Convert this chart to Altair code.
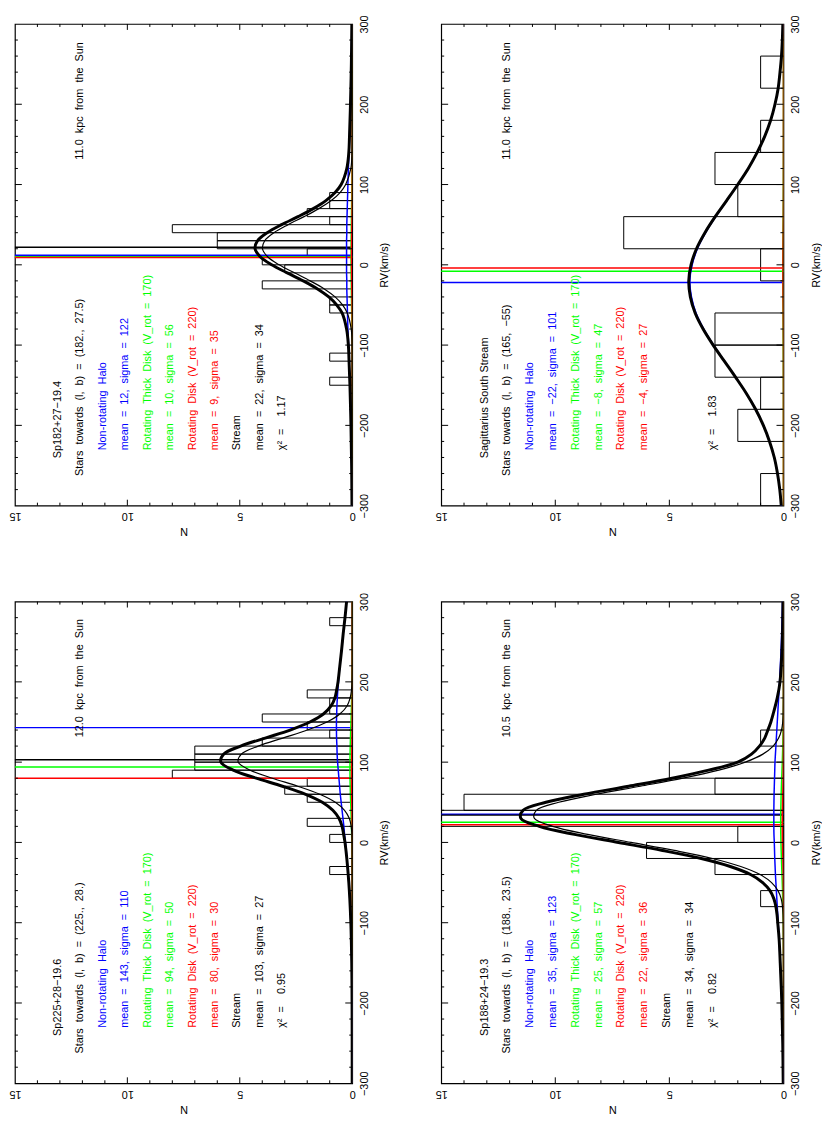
import altair as alt
import pandas as pd

BLUE, GREEN, RED, BLACK = "#0000ff", "#00ff00", "#ff0000", "#000000"
FONT = "Liberation Sans"

# ---------------- axis tick values ----------------
N_LABELS = [0, 5, 10, 15]
RV_LABELS = [-300, -200, -100, 0, 100, 200, 300]
N_MAJOR = [5, 10]
N_MINOR = [1, 2, 3, 4, 6, 7, 8, 9, 11, 12, 13, 14]
RV_MAJOR = [-200, -100, 0, 100, 200]
RV_MINOR = [-280, -260, -240, -220, -180, -160, -140, -120, -80, -60, -40, -20,
            20, 40, 60, 80, 120, 140, 160, 180, 220, 240, 260, 280]

# ---------------- panel 1 : Sp182+27-19.4 ----------------
P1_NAME = "Sp182+27−19.4"
P1_LB = "(182., 27.5)"
P1_DIST = "11.0 kpc from the Sun"
P1_MEANS = [12, 10, 9, 22]          # halo, thick disk, disk, stream
P1_SIGMAS = [122, 56, 35, 34]
P1_CHI2 = "1.17"
P1_BIN_W = 10
P1_BIN_LO = [-150, -120, -60, -50, -30, -10, 0, 10, 20, 30, 40, 50, 60, 70, 80]
P1_COUNT = [1, 1, 1, 1, 4, 3, 4, 2, 6, 6, 8, 1, 2, 1, 1]
P1_RV = [-300, -250, -200, -150, -120, -100, -80, -60, -50, -40, -30, -20, -10, 0, 10,
         20, 30, 40, 50, 60, 70, 80, 90, 100, 120, 140, 160, 200, 250, 300]
P1_TOTAL = [.01, .025, .055, .10, .14, .17, .25, .45, .69, 1.04, 1.54, 2.18, 2.89, 3.58, 4.09,
            4.32, 4.21, 3.78, 3.14, 2.41, 1.73, 1.17, .76, .49, .24, .15, .12, .076, .037, .016]
P1_STREAM = [0, 0, 0, 0, 0, .006, .044, .22, .43, .76, 1.24, 1.87, 2.57, 3.25, 3.76,
             3.99, 3.89, 3.48, 2.85, 2.14, 1.48, .93, .54, .29, .06, .01, 0, 0, 0, 0]
P1_HALO = [.01, .025, .055, .10, .14, .16, .19, .21, .22, .23, .24, .24, .25, .25, .25,
           .25, .25, .24, .24, .23, .22, .21, .20, .19, .17, .14, .12, .076, .037, .016]
P1_DISK_RV = P1_RV
P1_TDISK = [0, 0, 0, 0, .003, .007, .014, .023, .028, .034, .039, .043, .047, .049, .05,
            .049, .047, .043, .039, .034, .028, .023, .018, .014, .007, .003, .001, 0, 0, 0]
P1_DISK = [0, 0, 0, 0, 0, 0, 0, .004, .007, .011, .017, .021, .026, .029, .03,
           .029, .026, .021, .015, .01, .006, .003, .002, .001, 0, 0, 0, 0, 0, 0]

# ---------------- panel 2 : Sagittarius South Stream ----------------
P2_NAME = "Sagittarius  South  Stream"
P2_LB = "(165, −55)"
P2_DIST = "11.0 kpc from the Sun"
P2_MEANS = [-22, -8, -4]
P2_SIGMAS = [101, 47, 27]
P2_CHI2 = "1.83"
P2_BIN_W = 40
P2_BIN_LO = [-300, -220, -180, -140, -100, -20, 20, 60, 100, 140, 220]
P2_COUNT = [1, 2, 1, 3, 3, 1, 7, 2, 3, 1, 1]
P2_RV = [-300, -280, -260, -240, -220, -200, -180, -160, -140, -120, -100, -80, -60, -40, -20,
         0, 20, 40, 60, 80, 100, 120, 140, 160, 180, 200, 220, 240, 260, 280, 300]
P2_TOTAL = [.095, .16, .26, .40, .61, .88, 1.22, 1.63, 2.10, 2.59, 3.08, 3.52, 3.87, 4.08, 4.15,
            4.05, 3.81, 3.44, 2.99, 2.49, 2.00, 1.54, 1.15, .82, .56, .37, .23, .15, .085, .047, .026]
P2_HALO = [.095, .16, .26, .40, .61, .88, 1.22, 1.63, 2.09, 2.58, 3.06, 3.49, 3.83, 4.03, 4.10,
           4.00, 3.77, 3.41, 2.97, 2.48, 2.00, 1.54, 1.15, .82, .56, .37, .23, .15, .085, .047, .026]
P2_DISK_RV = [-300, -150, -100, -60, -40, -20, 0, 20, 40, 60, 100, 150, 300]
P2_TDISK = [0, .003, .01, .018, .025, .029, .03, .026, .02, .012, .004, 0, 0]
P2_DISK = [0, 0, .002, .01, .016, .02, .02, .017, .01, .005, 0, 0, 0]

# ---------------- panel 3 : Sp225+28-19.6 ----------------
P3_NAME = "Sp225+28−19.6"
P3_LB = "(225., 28.)"
P3_DIST = "12.0 kpc from the Sun"
P3_MEANS = [143, 94, 80, 103]
P3_SIGMAS = [110, 50, 30, 27]
P3_CHI2 = "0.95"
P3_BIN_W = 10
P3_BIN_LO = [-40, 0, 20, 50, 60, 70, 80, 90, 100, 110, 120, 130, 140, 150, 160, 170, 180, 270]
P3_COUNT = [1, 1, 2, 2, 3, 2, 8, 7, 7, 7, 4, 1, 2, 4, 1, 1, 2, 1]
P3_RV = [-300, -250, -200, -150, -100, -50, 0, 10, 20, 30, 40, 50, 60, 70, 80, 90, 100,
         110, 120, 130, 140, 150, 160, 170, 180, 190, 200, 220, 240, 260, 280, 300]
P3_TOTAL = [0, .001, .005, .02, .06, .15, .32, .38, .45, .59, .86, 1.33, 2.07, 3.10, 4.27, 5.29, 5.84,
            5.71, 4.96, 3.87, 2.76, 1.88, 1.28, .94, .77, .69, .63, .55, .47, .40, .32, .25]
P3_STREAM = [0, 0, 0, 0, 0, 0, .004, .014, .045, .13, .34, .75, 1.44, 2.42, 3.55, 4.54, 5.07,
             4.93, 4.18, 3.09, 1.99, 1.12, .55, .23, .09, .03, .009, 0, 0, 0, 0, 0]
P3_HALO = [0, .001, .005, .02, .06, .15, .30, .34, .37, .41, .45, .49, .53, .56, .59, .62, .65,
           .67, .68, .695, .70, .70, .69, .68, .66, .64, .61, .55, .47, .40, .32, .25]
P3_DISK_RV = [-300, -50, 0, 20, 40, 60, 80, 100, 120, 140, 160, 180, 200, 250, 300]
P3_TDISK = [0, .002, .017, .033, .056, .079, .096, .099, .087, .066, .042, .023, .011, .001, 0]
P3_DISK = [0, 0, .001, .004, .012, .024, .03, .024, .012, .004, .001, 0, 0, 0, 0]

# ---------------- panel 4 : Sp188+24-19.3 ----------------
P4_NAME = "Sp188+24−19.3"
P4_LB = "(188., 23.5)"
P4_DIST = "10.5 kpc from the Sun"
P4_MEANS = [35, 25, 22, 34]
P4_SIGMAS = [123, 57, 36, 34]
P4_CHI2 = "0.82"
P4_BIN_W = 20
P4_BIN_LO = [-80, -40, -20, 0, 20, 40, 60, 80, 120]
P4_COUNT = [1, 3, 6, 2, 16, 14, 3, 5, 1]
P4_RV = [-300, -250, -200, -150, -120, -100, -90, -80, -70, -60, -50, -40, -30, -20, -10, 0,
         10, 20, 30, 40, 50, 60, 70, 80, 90, 100, 110, 120, 130, 140, 150, 160, 180, 200, 250, 300]
P4_TOTAL = [.01, .03, .07, .14, .19, .25, .28, .33, .42, .59, .91, 1.44, 2.33, 3.60, 5.30, 7.23,
            9.16, 10.70, 11.51, 11.41, 10.41, 8.75, 6.78, 4.88, 3.28, 2.00, 1.40, 1.05, .82, .68,
            .55, .45, .27, .15, .05, .02]
P4_STREAM = [0, 0, 0, 0, 0, .005, .014, .04, .10, .24, .52, 1.02, 1.87, 3.11, 4.78, 6.68,
             8.58, 10.11, 10.92, 10.83, 9.85, 8.21, 6.27, 4.40, 2.83, 1.67, .90, .45, .21, .085,
             .03, .01, 0, 0, 0, 0]
P4_HALO = [.01, .03, .07, .14, .19, .23, .25, .27, .29, .31, .33, .35, .365, .38, .39, .40,
           .415, .42, .42, .42, .415, .41, .40, .39, .38, .37, .35, .33, .31, .29, .27, .25,
           .21, .17, .09, .04]
P4_DISK_RV = [-300, -150, -100, -80, -60, -40, -20, 0, 20, 40, 60, 80, 100, 120, 140, 160, 200, 300]
P4_TDISK = [0, .001, .011, .022, .04, .063, .088, .109, .12, .116, .10, .075, .05, .03, .016, .007, .001, 0]
P4_DISK = [0, 0, 0, .001, .004, .011, .025, .042, .05, .044, .029, .014, .005, .001, 0, 0, 0, 0]

# ---------------- layout constants ----------------
W_LEFT, W_RIGHT = 341, 346
H_PANEL = 487
SPACE_H, SPACE_V = 44, 55

XS = alt.Scale(domain=[0, 15], reverse=True, nice=False, zero=False)
YS = alt.Scale(domain=[-300, 300], nice=False, zero=False)
X_AXIS = alt.Axis(values=N_LABELS, orient="bottom", title="N", format="d",
                  labelAngle=180, labelAlign="center", labelBaseline="bottom", labelPadding=5,
                  titleAngle=180, titleBaseline="bottom", titlePadding=4,
                  ticks=False, domain=False, grid=False,
                  labelFont=FONT, titleFont=FONT, labelFontSize=11, titleFontSize=11,
                  titleFontWeight="normal", labelColor="black", titleColor="black")
Y_AXIS = alt.Axis(values=RV_LABELS, orient="right", title="RV(km/s)", format="d",
                  labelAngle=270, labelAlign="center", labelBaseline="top", labelPadding=6,
                  titleAngle=270, titleBaseline="top", titlePadding=10,
                  ticks=False, domain=False, grid=False,
                  labelFont=FONT, titleFont=FONT, labelFontSize=11, titleFontSize=11,
                  titleFontWeight="normal", labelColor="black", titleColor="black")


def X(f):
    return alt.X(f + ":Q", scale=XS, axis=X_AXIS)


def Y(f):
    return alt.Y(f + ":Q", scale=YS, axis=Y_AXIS)


def sp(s):
    return s.replace(" ", "\u00a0\u00a0")


def num(v):
    return str(v).replace("-", "−")


def curve(rv, n, color, width):
    df = pd.DataFrame({"rv": rv, "n": n})
    return alt.Chart(df).mark_line(color=color, strokeWidth=width, interpolate="catmull-rom",
                                   clip=True).encode(x=X("n"), y=Y("rv"), order=alt.Order("rv:Q"))


def panel(name, lb, dist, means, sigmas, chi2, bin_w, bin_lo, counts,
          rv, total, stream, halo, disk_rv, tdisk, disk, W, H):
    bars = pd.DataFrame({"lo": bin_lo, "hi": [v + bin_w for v in bin_lo], "n": counts})
    layers = [
        alt.Chart(bars).mark_rect(fillOpacity=0, stroke="black", strokeWidth=1, clip=True)
        .encode(x=X("n"), x2=alt.datum(0), y=Y("lo"), y2=alt.Y2("hi:Q"))
    ]
    mean_rv = [means[1], means[0], means[2]]
    mean_c = [GREEN, BLUE, RED]
    if stream is not None:
        mean_rv.append(means[3])
        mean_c.append(BLACK)
    mdf = pd.DataFrame({"rv": mean_rv, "c": mean_c})
    layers.append(alt.Chart(mdf).mark_rule(strokeWidth=1.5)
                  .encode(y=Y("rv"), color=alt.Color("c:N", scale=None)))
    layers.append(curve(disk_rv, tdisk, GREEN, 1.5))
    layers.append(curve(disk_rv, disk, RED, 1.5))
    layers.append(curve(rv, halo, BLUE, 1.5))
    if stream is not None:
        layers.append(curve(rv, stream, BLACK, 1.2))
    layers.append(curve(rv, total, BLACK, 3))

    rows = [
        (name, 13.1, -241, BLACK),
        (sp("Stars towards (l, b) = ") + lb.replace(" ", "\u00a0\u00a0"), 12.1, -263, BLACK),
        (sp("Non-rotating Halo"), 11.1, -231, BLUE),
        (sp(f"mean = {num(means[0])}, sigma = {sigmas[0]}"), 10.1, -231, BLUE),
        (sp("Rotating Thick Disk (V_rot = 170)"), 9.1, -231, GREEN),
        (sp(f"mean = {num(means[1])}, sigma = {sigmas[1]}"), 8.1, -231, GREEN),
        (sp("Rotating Disk (V_rot = 220)"), 7.1, -231, RED),
        (sp(f"mean = {num(means[2])}, sigma = {sigmas[2]}"), 6.1, -231, RED),
    ]
    if stream is not None:
        rows += [
            ("Stream", 5.1, -231, BLACK),
            (sp(f"mean = {num(means[3])}, sigma = {sigmas[3]}"), 4.1, -231, BLACK),
        ]
    rows += [
        ("χ²\u00a0\u00a0=\u00a0\u00a0\u00a0\u00a0" + chi2, 3.1, -231, BLACK),
        (sp(dist), 12.1, 131, BLACK),
    ]
    tdf = pd.DataFrame(rows, columns=["t", "n", "rv", "c"])
    layers.append(alt.Chart(tdf).mark_text(angle=270, align="left", baseline="middle",
                                           fontSize=11, font=FONT)
                  .encode(x=X("n"), y=Y("rv"), text="t:N", color=alt.Color("c:N", scale=None)))

    # inward ticks on all four sides
    for vals, L in [(N_MAJOR, 6), (N_MINOR, 3)]:
        df = pd.DataFrame({"n": vals})
        layers.append(alt.Chart(df).mark_rule(color="black", strokeWidth=1)
                      .encode(x=X("n"), y=alt.value(H - L), y2=alt.value(H)))
        layers.append(alt.Chart(df).mark_rule(color="black", strokeWidth=1)
                      .encode(x=X("n"), y=alt.value(0), y2=alt.value(L)))
    for vals, L in [(RV_MAJOR, 7), (RV_MINOR, 3)]:
        df = pd.DataFrame({"rv": vals})
        layers.append(alt.Chart(df).mark_rule(color="black", strokeWidth=1)
                      .encode(y=Y("rv"), x=alt.value(0), x2=alt.value(L)))
        layers.append(alt.Chart(df).mark_rule(color="black", strokeWidth=1)
                      .encode(y=Y("rv"), x=alt.value(W - L), x2=alt.value(W)))
    return alt.layer(*layers).properties(width=W, height=H)


p1 = panel(P1_NAME, P1_LB, P1_DIST, P1_MEANS, P1_SIGMAS, P1_CHI2, P1_BIN_W, P1_BIN_LO, P1_COUNT,
           P1_RV, P1_TOTAL, P1_STREAM, P1_HALO, P1_DISK_RV, P1_TDISK, P1_DISK, W_LEFT, H_PANEL)
p2 = panel(P2_NAME, P2_LB, P2_DIST, P2_MEANS, P2_SIGMAS, P2_CHI2, P2_BIN_W, P2_BIN_LO, P2_COUNT,
           P2_RV, P2_TOTAL, None, P2_HALO, P2_DISK_RV, P2_TDISK, P2_DISK, W_RIGHT, H_PANEL)
p3 = panel(P3_NAME, P3_LB, P3_DIST, P3_MEANS, P3_SIGMAS, P3_CHI2, P3_BIN_W, P3_BIN_LO, P3_COUNT,
           P3_RV, P3_TOTAL, P3_STREAM, P3_HALO, P3_DISK_RV, P3_TDISK, P3_DISK, W_LEFT, H_PANEL)
p4 = panel(P4_NAME, P4_LB, P4_DIST, P4_MEANS, P4_SIGMAS, P4_CHI2, P4_BIN_W, P4_BIN_LO, P4_COUNT,
           P4_RV, P4_TOTAL, P4_STREAM, P4_HALO, P4_DISK_RV, P4_TDISK, P4_DISK, W_RIGHT, H_PANEL)

chart = alt.vconcat(
    alt.hconcat(p1, p2, spacing=SPACE_H),
    alt.hconcat(p3, p4, spacing=SPACE_H),
    spacing=SPACE_V,
).properties(padding=0).configure(font=FONT).configure_view(stroke="black", strokeWidth=1.2)

chart.save("out.html", embed_options={"renderer": "svg", "actions": False})
